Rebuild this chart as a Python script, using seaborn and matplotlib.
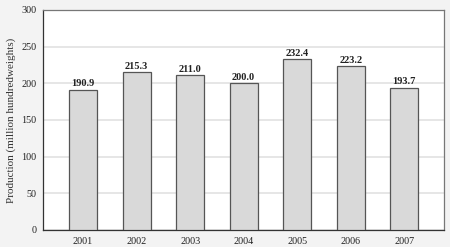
import matplotlib
matplotlib.use("Agg")
import matplotlib.pyplot as plt
import seaborn as sns
import pandas as pd

years = ["2001", "2002", "2003", "2004", "2005", "2006", "2007"]
production = [190.9, 215.3, 211.0, 200.0, 232.4, 223.2, 193.7]
y_ticks = [0, 50, 100, 150, 200, 250, 300]
y_label = "Production (million hundredweights)"

sns.set_style("white")
plt.rcParams['font.family'] = ['Liberation Serif', 'DejaVu Serif']

df = pd.DataFrame({"year": years, "production": production})

fig = plt.figure(figsize=(4.5, 2.47), dpi=100, facecolor="#f3f3f3")
ax = fig.add_axes([0.096, 0.069, 0.891, 0.891])
ax.set_facecolor("white")

sns.barplot(data=df, x="year", y="production", color="#d9d9d9", edgecolor="#555555",
            linewidth=0.9, width=0.52, saturation=1, ax=ax, zorder=3)

ax.set_ylim(0, 300)
ax.set_yticks(y_ticks)
ax.set_xlim(-0.745, 6.745)
ax.yaxis.grid(True, color="#e2e2e2", linewidth=1.2, zorder=0)
ax.set_axisbelow(True)
for s in ax.spines.values():
    s.set_color("#777777")
    s.set_linewidth(0.9)
ax.spines['left'].set_color("#333333")
ax.spines['bottom'].set_color("#333333")

ax.set_xlabel("")
ax.set_ylabel(y_label, fontsize=8, color="#333333", labelpad=3.5)
ax.tick_params(axis='both', labelsize=7.3, colors="#222222", length=0, pad=5)

for i, v in enumerate(production):
    ax.text(i, v + 2, f"{v:.1f}", ha="center", va="bottom", fontsize=7.5,
            fontweight="bold", color="#222222")

fig.savefig("out.png", dpi=100, facecolor=fig.get_facecolor())
